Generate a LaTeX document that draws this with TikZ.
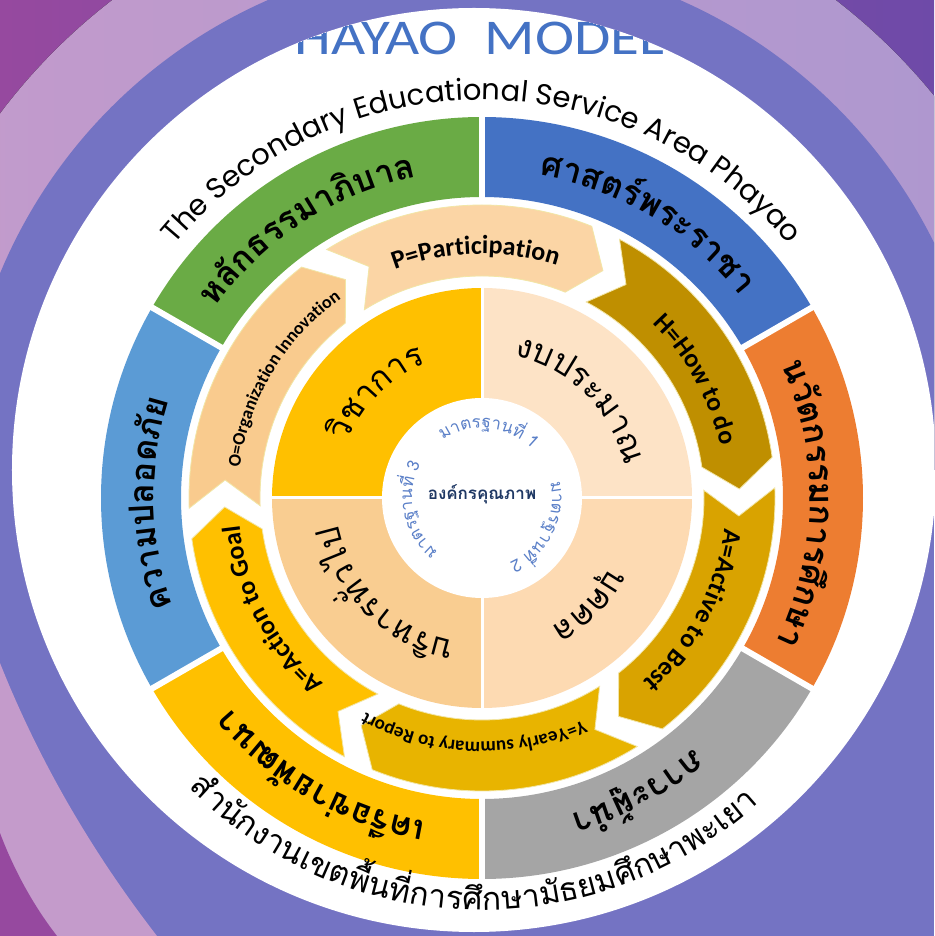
\documentclass[tikz,border=0pt]{standalone}
\usepackage{fontspec}
\usepackage{tikz}
\usetikzlibrary{decorations.text}
\setmainfont{Carlito}
\newfontfamily\thaifont[Script=Thai]{Loma}
\newfontfamily\roundfont{Poppins}
\definecolor{BgBand}{HTML}{7473C3}
\definecolor{BgLeft}{HTML}{96499F}
\definecolor{BgRight}{HTML}{6E4AA8}
\definecolor{PinkL}{HTML}{C49BCB}
\definecolor{PinkR}{HTML}{AC97D0}
\definecolor{G1}{HTML}{6AAB45}
\definecolor{G2}{HTML}{4472C4}
\definecolor{G3}{HTML}{ED7D31}
\definecolor{G4}{HTML}{A5A5A5}
\definecolor{G5}{HTML}{FFC000}
\definecolor{G6}{HTML}{5B9BD5}
\definecolor{M1}{HTML}{FBD5A5}
\definecolor{M2}{HTML}{BF8F00}
\definecolor{M3}{HTML}{D9A300}
\definecolor{M4}{HTML}{E8B400}
\definecolor{M5}{HTML}{FFC000}
\definecolor{M6}{HTML}{F9CB8E}
\definecolor{SegLine}{HTML}{F2E6A6}
\definecolor{Q1}{HTML}{FFC000}
\definecolor{Q2}{HTML}{FDE3C6}
\definecolor{Q3}{HTML}{FDDAB2}
\definecolor{Q4}{HTML}{F9CD91}
\definecolor{TitleBlue}{HTML}{4472C4}
\definecolor{StdBlue}{HTML}{5B80C8}
\definecolor{Navy}{HTML}{1F3864}

\newcommand\ringfont{\thaifont\bfseries\fontsize{34}{34}\selectfont}
\newcommand\quadfont{\thaifont\fontsize{33}{33}\selectfont}
\newcommand\stdfont{\thaifont\fontsize{17}{17}\selectfont\color{StdBlue}}
\newcommand\basefont{\thaifont\fontsize{32}{32}\selectfont}
\newcommand\midfont{\bfseries\fontsize{26}{26}\selectfont}
\newcommand\smallfont{\bfseries\fontsize{19}{19}\selectfont}

\newdimen\cwTotal
\newdimen\cwPos
\newdimen\cwGlyph
\newdimen\cwTmp
% measure one cluster outside the picture context
\newcommand\cwMeasure[2]{%
  \pgfinterruptpicture\settowidth\cwTmp{#1#2}\global\cwGlyph=\cwTmp\endpgfinterruptpicture}
% clockwise, tops outward: font, baseline radius, centre angle, clusters
\newcommand\cwtext[4]{%
  \global\cwTotal=0pt%
  \foreach \cl in {#4}{\cwMeasure{#1}{\cl}\global\advance\cwTotal by\cwGlyph}%
  \global\cwPos=0pt%
  \foreach \cl in {#4}{%
    \cwMeasure{#1}{\cl}%
    \pgfmathsetmacro\clang{#3-(\the\cwPos+0.5*\the\cwGlyph-0.5*\the\cwTotal)/#2*57.2958}%
    \node[rotate=\clang-90, anchor=base, inner sep=0pt] at (\clang:#2) {#1\cl};%
    \global\advance\cwPos by\cwGlyph}}
% counter-clockwise, tops inward
\newcommand\ccwtext[4]{%
  \global\cwTotal=0pt%
  \foreach \cl in {#4}{\cwMeasure{#1}{\cl}\global\advance\cwTotal by\cwGlyph}%
  \global\cwPos=0pt%
  \foreach \cl in {#4}{%
    \cwMeasure{#1}{\cl}%
    \pgfmathsetmacro\clang{#3+(\the\cwPos+0.5*\the\cwGlyph-0.5*\the\cwTotal)/#2*57.2958}%
    \node[rotate=\clang+90, anchor=base, inner sep=0pt] at (\clang:#2) {#1\cl};%
    \global\advance\cwPos by\cwGlyph}}

\tikzset{ringtext/.style={decorate, decoration={text along path, text align=center, text={#1}}}}

\begin{document}
\begin{tikzpicture}[x=1pt, y=1pt]
\useasboundingbox (-482,-438) rectangle (452,498);
\clip (-482,-438) rectangle (452,498);
% background bands
\fill[BgBand] (-482,-438) rectangle (452,498);
\begin{scope}
  \clip (-482,28) rectangle (452,498);
  \fill[left color=BgLeft, right color=BgRight] (-482,28) rectangle (452,498);
  \fill[left color=PinkL, right color=PinkR] (-8,28) circle[radius=593];
  \fill[BgBand] (-8,28) circle[radius=513];
\end{scope}
\fill[PinkL] (-482,-165) .. controls (-443,-263) and (-390,-354) .. (-325,-438) -- (-482,-438) -- cycle;
\fill[BgLeft] (-482,-335) .. controls (-468,-372) and (-449,-407) .. (-425,-438) -- (-482,-438) -- cycle;
\fill[white] (-8,28) circle[radius=462];
\begin{scope}
  \clip (-8,28) circle[radius=462];
  \node[anchor=base, text=TitleBlue, font=\fontsize{50}{50}\selectfont, xscale=1.18] (title) at (-18,443) {PHAYAO\ \ MODEL};
\end{scope}
% outer ring
\foreach \a/\c in {150/G1, 90/G2, 30/G3, -30/G4, -90/G5, -150/G6}
  \fill[\c] (\a:381) arc[start angle=\a, end angle=\a-60, radius=381] -- ({\a-60}:301) arc[start angle=\a-60, end angle=\a, radius=301] -- cycle;
\foreach \a in {150, 90, 30, -30, -90, -150}
  \draw[white, line width=6] (\a:298) -- (\a:384);
% arrow ring
\foreach \s/\c in {125/M1, 65/M2, 5/M3, -55/M4, -115/M5, -175/M6}
  \filldraw[fill=\c, draw=SegLine, line width=0.8] ({\s-3}:293) arc[start angle=\s-3, end angle=\s-57, radius=293] -- ({\s-63}:257.5) -- ({\s-57}:222) arc[start angle=\s-57, end angle=\s-3, radius=222] -- ({\s-9}:257.5) -- cycle;
% quadrants
\foreach \a/\c in {90/Q1, 0/Q2, -90/Q3, 180/Q4}
  \fill[\c] (0,0) -- (\a:210) arc[start angle=\a, end angle=\a+90, radius=210] -- cycle;
\draw[white, line width=3] (-212,0) -- (212,0);
\draw[white, line width=3] (0,-212) -- (0,212);
\fill[white] (0,0) circle[radius=100];
% texts
\path[ringtext={|\roundfont\fontsize{29}{29}\selectfont|The Secondary Educational Service Area Phayao}] (170:398) arc[start angle=170, end angle=10, radius=398];
\ccwtext{\basefont}{412}{-91.5}{สำ,นั,ก,ง,า,น,เ,ข,ต,พื้,น,ที่,ก,า,ร,ศึ,ก,ษ,า,มั,ธ,ย,ม,ศึ,ก,ษ,า,พ,ะ,เ,ย,า}
\cwtext{\ringfont}{328}{123}{ห,ลั,ก,ธ,ร,ร,ม,า,ภิ,บ,า,ล}
\cwtext{\ringfont}{328}{59}{ศ,า,ส,ต,ร์,พ,ร,ะ,ร,า,ช,า}
\cwtext{\ringfont}{328}{-1}{น,วั,ต,ก,ร,ร,ม,ก,า,ร,ศึ,ก,ษ,า}
\cwtext{\ringfont}{328}{-62}{ภ,า,ว,ะ,ผู้,นำ}
\cwtext{\ringfont}{328}{-120}{เ,ค,รื,อ,ข่,า,ย,พั,ฒ,น,า}
\cwtext{\ringfont}{328}{-179}{ค,ว,า,ม,ป,ล,อ,ด,ภั,ย}
\path[ringtext={|\midfont|P=Participation}] (131.5:244) arc[start angle=131.5, end angle=51.5, radius=244];
\path[ringtext={|\midfont|H=How to do}] (69:244) arc[start angle=69, end angle=-11, radius=244];
\path[ringtext={|\midfont|A=Active to Best}] (12:244) arc[start angle=12, end angle=-68, radius=244];
\path[ringtext={|\smallfont|Y=Yearly summary to Report}] (-52:244) arc[start angle=-52, end angle=-132, radius=244];
\path[ringtext={|\midfont|A=Action to Goal}] (-112:244) arc[start angle=-112, end angle=-192, radius=244];
\path[ringtext={|\bfseries\fontsize{18}{18}\selectfont|O=Organization Innovation}] (189:244) arc[start angle=189, end angle=109, radius=244];
\cwtext{\quadfont}{146}{135}{วิ,ช,า,ก,า,ร}
\cwtext{\quadfont}{146}{45}{ง,บ,ป,ร,ะ,ม,า,ณ}
\cwtext{\quadfont}{146}{-45}{บุ,ค,ค,ล}
\cwtext{\quadfont}{146}{-135}{บ,ริ,ห,า,ร,ทั่,ว,ไ,ป}
\cwtext{\stdfont}{70}{84}{ม,า,ต,ร,ฐ,า,น,ที่,~,1}
\cwtext{\stdfont}{70}{-27}{ม,า,ต,ร,ฐ,า,น,ที่,~,2}
\cwtext{\stdfont}{70}{191}{ม,า,ต,ร,ฐ,า,น,ที่,~,3}
\node[font=\thaifont\bfseries\fontsize{17}{17}\selectfont, text=Navy] (core) at (0,4) {องค์กรคุณภาพ};
\end{tikzpicture}
\end{document}
